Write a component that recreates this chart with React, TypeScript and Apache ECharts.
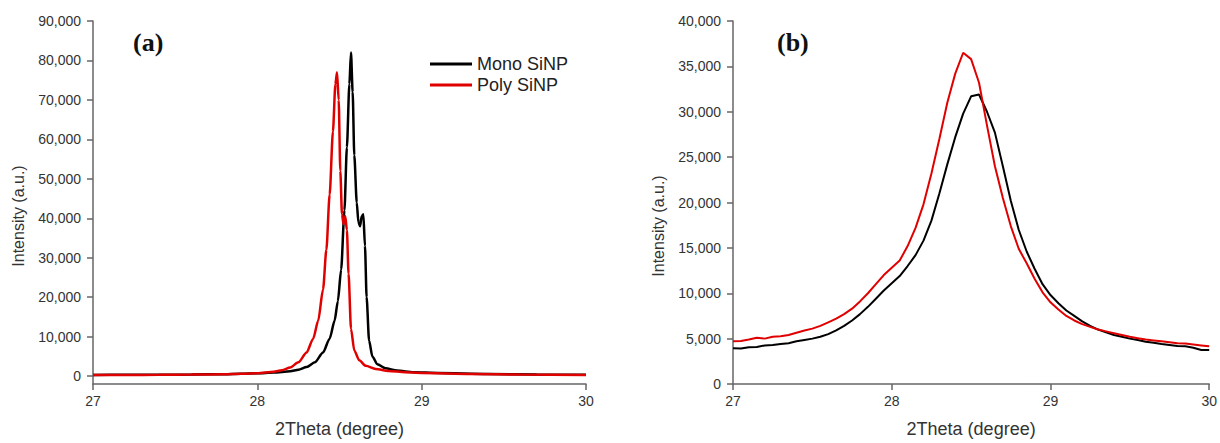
import React, { useEffect, useRef } from "react";
import * as echarts from "echarts";

// Panel (a): full scan
const monoA_x = [27.0, 27.2, 27.4, 27.6, 27.8, 27.9, 28.0, 28.1, 28.2, 28.25, 28.3, 28.35, 28.4, 28.44, 28.47, 28.49, 28.51, 28.53, 28.545, 28.56, 28.57, 28.58, 28.59, 28.605, 28.615, 28.625, 28.635, 28.645, 28.655, 28.665, 28.68, 28.7, 28.73, 28.78, 28.85, 28.95, 29.1, 29.4, 29.7, 30.0];
const monoA_y = [300, 320, 350, 400, 500, 600, 700, 900, 1200, 1600, 2300, 3500, 6000, 9500, 14000, 19000, 27000, 42000, 58000, 74000, 82000, 72000, 56000, 44000, 39000, 38000, 40500, 41000, 33000, 20000, 9000, 5000, 3000, 2000, 1400, 1000, 800, 550, 400, 320];
const polyA_x = [27.0, 27.2, 27.4, 27.6, 27.8, 27.9, 28.0, 28.1, 28.15, 28.2, 28.25, 28.3, 28.34, 28.37, 28.4, 28.42, 28.44, 28.46, 28.475, 28.485, 28.495, 28.505, 28.515, 28.525, 28.535, 28.545, 28.555, 28.57, 28.59, 28.62, 28.66, 28.72, 28.8, 28.9, 29.0, 29.3, 29.6, 30.0];
const polyA_y = [250, 280, 320, 380, 480, 600, 750, 1100, 1500, 2200, 3500, 6000, 9500, 14000, 22000, 32000, 46000, 62000, 74000, 77000, 70000, 52000, 41000, 38500, 40500, 37000, 26000, 12000, 6500, 4000, 2600, 1800, 1300, 1000, 800, 550, 400, 300];

// Panel (b): peak detail
const thetaB = [27.0, 27.05, 27.1, 27.15, 27.2, 27.25, 27.3, 27.35, 27.4, 27.45, 27.5, 27.55, 27.6, 27.65, 27.7, 27.75, 27.8, 27.85, 27.9, 27.95, 28.0, 28.05, 28.1, 28.15, 28.2, 28.25, 28.3, 28.35, 28.4, 28.45, 28.5, 28.55, 28.6, 28.65, 28.7, 28.75, 28.8, 28.85, 28.9, 28.95, 29.0, 29.05, 29.1, 29.15, 29.2, 29.25, 29.3, 29.35, 29.4, 29.45, 29.5, 29.55, 29.6, 29.65, 29.7, 29.75, 29.8, 29.85, 29.9, 29.95, 30.0];
const monoB_y = [3930, 3900, 4050, 4080, 4250, 4300, 4400, 4500, 4700, 4850, 5000, 5200, 5500, 5900, 6400, 7000, 7700, 8500, 9400, 10300, 11100, 11900, 13000, 14200, 15800, 18000, 21000, 24200, 27200, 29800, 31700, 31900, 30000, 27700, 24000, 20200, 17000, 14600, 12700, 11000, 9800, 8900, 8100, 7500, 6900, 6400, 6000, 5700, 5400, 5200, 5000, 4850, 4650, 4550, 4400, 4300, 4200, 4150, 4000, 3750, 3750];
const polyB_y = [4700, 4750, 4900, 5100, 5000, 5200, 5250, 5400, 5650, 5900, 6100, 6400, 6800, 7200, 7700, 8300, 9100, 10000, 11000, 12000, 12800, 13600, 15200, 17200, 19800, 23200, 27000, 31000, 34200, 36500, 35800, 33200, 28500, 24000, 20500, 17400, 14900, 13300, 11600, 10100, 9000, 8200, 7500, 7000, 6600, 6300, 6000, 5800, 5600, 5400, 5200, 5050, 4900, 4800, 4700, 4600, 4500, 4450, 4350, 4250, 4150];

const xTicks = [27, 28, 29, 30];
const yTicksA = [0, 10000, 20000, 30000, 40000, 50000, 60000, 70000, 80000, 90000];
const yTicksB = [0, 5000, 10000, 15000, 20000, 25000, 30000, 35000, 40000];

const seriesNames = ["Mono SiNP", "Poly SiNP"];
const xName = "2Theta (degree)";
const yName = "Intensity (a.u.)";

const zip = (xs: number[], ys: number[]) => xs.map((x, i) => [x, ys[i]]);
const fmt = (v: number) => Number(v).toLocaleString("en-US");

export default function App() {
  const ref = useRef<HTMLDivElement>(null);
  useEffect(() => {
    if (!ref.current) return;
    const chart = echarts.init(ref.current, null, { renderer: "svg" });
    const axisColor = "#666";
    const labelColor = "#333";
    const font = "Liberation Sans, Arial, sans-serif";
    const xAxisBase = (gridIndex: number) => ({
      type: "value",
      gridIndex,
      min: 27,
      max: 30,
      interval: 1,
      axisLine: { onZero: false, lineStyle: { color: axisColor, width: 1.5 } },
      axisTick: { length: 6, lineStyle: { color: axisColor, width: 1.5 }, customValues: xTicks },
      axisLabel: { color: labelColor, fontSize: 14, margin: 10, fontFamily: font, customValues: xTicks },
      splitLine: { show: false },
      name: xName,
      nameLocation: "middle",
      nameGap: 36,
      nameTextStyle: { fontSize: 18, color: labelColor, fontFamily: font },
    });
    const yAxisBase = (gridIndex: number, min: number, max: number, ticks: number[]) => ({
      type: "value",
      gridIndex,
      min,
      max,
      axisLine: { show: true, onZero: false, lineStyle: { color: axisColor, width: 1.5 } },
      axisTick: { show: true, length: 6, lineStyle: { color: axisColor, width: 1.5 }, customValues: ticks },
      axisLabel: { color: labelColor, fontSize: 14, margin: 12, fontFamily: font, customValues: ticks, formatter: fmt },
      splitLine: { show: false },
    });
    chart.setOption({
      animation: false,
      backgroundColor: "#fff",
      grid: [
        { left: 93, top: 21, width: 493, height: 366 },
        { left: 733, top: 21, width: 480, height: 366 },
      ],
      xAxis: [xAxisBase(0), xAxisBase(1)],
      yAxis: [
        yAxisBase(0, -2000, 90000, yTicksA),
        yAxisBase(1, 0, 40000, yTicksB),
      ],
      legend: {
        data: seriesNames,
        orient: "vertical",
        left: 425,
        top: 50,
        icon: "rect",
        itemWidth: 42,
        itemHeight: 3,
        itemGap: 3,
        textStyle: { fontSize: 18, color: "#222", fontFamily: font },
      },
      graphic: [
        { type: "text", left: 133, top: 29, style: { text: "(a)", font: "bold 26px 'Liberation Serif', 'Times New Roman', serif", fill: "#111" } },
        { type: "text", left: 777, top: 29, style: { text: "(b)", font: "bold 26px 'Liberation Serif', 'Times New Roman', serif", fill: "#111" } },
        { type: "text", x: 18, y: 216, rotation: Math.PI / 2, style: { text: yName, font: "16px 'Liberation Sans', Arial, sans-serif", fill: labelColor, align: "center", verticalAlign: "middle" } },
        { type: "text", x: 658, y: 226, rotation: Math.PI / 2, style: { text: yName, font: "16px 'Liberation Sans', Arial, sans-serif", fill: labelColor, align: "center", verticalAlign: "middle" } },
      ],
      series: [
        { name: seriesNames[0], type: "line", xAxisIndex: 0, yAxisIndex: 0, data: zip(monoA_x, monoA_y), showSymbol: false, smooth: 0.25, smoothMonotone: "x", lineStyle: { color: "#000", width: 2.5 }, itemStyle: { color: "#000" } },
        { name: seriesNames[1], type: "line", xAxisIndex: 0, yAxisIndex: 0, data: zip(polyA_x, polyA_y), showSymbol: false, smooth: 0.25, smoothMonotone: "x", lineStyle: { color: "#e00000", width: 2.5 }, itemStyle: { color: "#e00000" } },
        { name: seriesNames[0], type: "line", xAxisIndex: 1, yAxisIndex: 1, data: zip(thetaB, monoB_y), showSymbol: false, lineStyle: { color: "#000", width: 2 }, itemStyle: { color: "#000" } },
        { name: seriesNames[1], type: "line", xAxisIndex: 1, yAxisIndex: 1, data: zip(thetaB, polyB_y), showSymbol: false, lineStyle: { color: "#e00000", width: 2 }, itemStyle: { color: "#e00000" } },
      ],
    });
    return () => chart.dispose();
  }, []);
  return <div ref={ref} style={{ position: "fixed", left: 0, top: 0, width: 1220, height: 443, background: "#fff" }} />;
}
